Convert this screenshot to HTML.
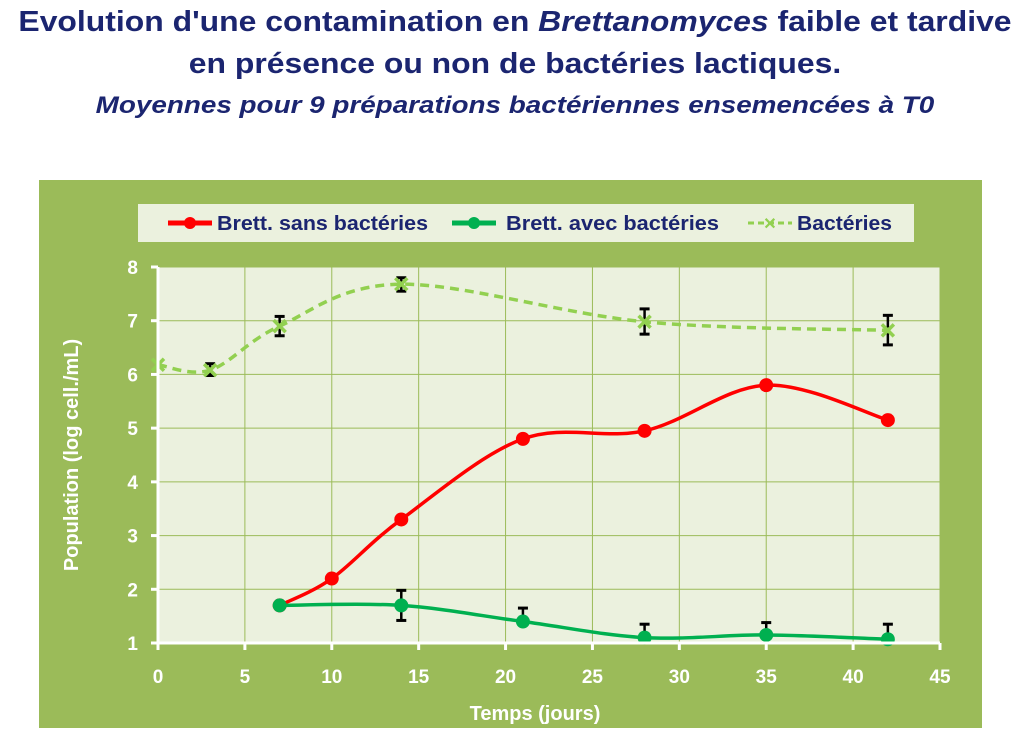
<!DOCTYPE html>
<html><head><meta charset="utf-8">
<style>
body{margin:0;width:1030px;height:748px;background:#fff;overflow:hidden;font-family:"Liberation Sans",sans-serif;}
.t{position:absolute;left:0;width:1030px;text-align:center;color:#1b2570;font-weight:bold;white-space:nowrap;}
</style></head><body>
<div class="t" style="top:6px;font-size:29px;transform:scaleX(1.1);">Evolution d'une contamination en <i>Brettanomyces</i> faible et tardive</div>
<div class="t" style="top:48px;font-size:29px;transform:scaleX(1.1);">en présence ou non de bactéries lactiques.</div>
<div class="t" style="top:92px;font-size:24px;font-style:italic;transform:scaleX(1.16);">Moyennes pour 9 préparations bactériennes ensemencées à T0</div>
<svg id="s" width="1030" height="748" style="position:absolute;left:0;top:0" font-family="Liberation Sans, sans-serif">
<rect x="39" y="180" width="943" height="548" fill="#9bbb59"/>
<rect x="138" y="204" width="776" height="38" fill="#ebf1de"/>
<rect x="158" y="267" width="782" height="376" fill="#ebf1de"/>
<g id="grid" stroke="#9bbb59" stroke-width="1"></g>
<g id="series"></g>
<g font-size="20" font-weight="bold" fill="#1b2570">
<line x1="168" y1="223" x2="212" y2="223" stroke="#ff0000" stroke-width="5"/><circle cx="190" cy="223" r="6" fill="#ff0000"/>
<text x="217" y="230" textLength="211" lengthAdjust="spacingAndGlyphs">Brett. sans bactéries</text>
<line x1="452" y1="223" x2="496" y2="223" stroke="#00b050" stroke-width="5"/><circle cx="474" cy="223" r="6" fill="#00b050"/>
<text x="506" y="230" textLength="213" lengthAdjust="spacingAndGlyphs">Brett. avec bactéries</text>
<line x1="748" y1="223" x2="792" y2="223" stroke="#92d050" stroke-width="3" stroke-dasharray="6,4"/>
<text x="770" y="229" font-size="16" fill="#92d050" text-anchor="middle">✕</text>
<text x="797" y="230" textLength="95" lengthAdjust="spacingAndGlyphs">Bactéries</text>
</g>
<g id="ax" fill="#fff" font-size="19" font-weight="bold"></g>
<text x="535" y="720" fill="#fff" font-size="20" font-weight="bold" text-anchor="middle">Temps (jours)</text>
<text transform="translate(78,455) rotate(-90)" fill="#fff" font-size="20" font-weight="bold" text-anchor="middle">Population (log cell./mL)</text>
</svg>
<script>
const X=t=>158+t*782/45, Y=v=>643-(v-1)*376/7;
const ns="http://www.w3.org/2000/svg";
function el(p,tag,a){const e=document.createElementNS(ns,tag);for(const k in a)e.setAttribute(k,a[k]);p.appendChild(e);return e;}
const g=document.getElementById('grid'),ax=document.getElementById('ax'),se=document.getElementById('series');
for(let t=5;t<=45;t+=5)el(g,'line',{x1:X(t),x2:X(t),y1:267,y2:643});
for(let v=2;v<=8;v++)el(g,'line',{x1:158,x2:940,y1:Y(v),y2:Y(v)});
el(ax,'line',{x1:155,x2:940,y1:643,y2:643,stroke:'#fff','stroke-width':3});
el(ax,'line',{x1:158,x2:158,y1:267,y2:646,stroke:'#fff','stroke-width':3});
for(let t=0;t<=45;t+=5){el(ax,'line',{x1:X(t),x2:X(t),y1:643,y2:650,stroke:'#fff','stroke-width':3});
 const tx=el(ax,'text',{x:X(t),y:683,'text-anchor':'middle'});tx.textContent=t;}
for(let v=1;v<=8;v++){el(ax,'line',{x1:151,x2:158,y1:Y(v),y2:Y(v),stroke:'#fff','stroke-width':3});
 const tx=el(ax,'text',{x:138,y:Y(v)+7,'text-anchor':'end'});tx.textContent=v;}
function path(pts){pts=pts.map(p=>[X(p[0]),Y(p[1])]);let d='M'+pts[0];
 for(let i=0;i<pts.length-1;i++){const p0=pts[i-1]||pts[i],p1=pts[i],p2=pts[i+1],p3=pts[i+2]||p2;
 const c1=[p1[0]+(p2[0]-p0[0])/6,p1[1]+(p2[1]-p0[1])/6],c2=[p2[0]-(p3[0]-p1[0])/6,p2[1]-(p3[1]-p1[1])/6];
 d+=' C'+c1+' '+c2+' '+p2;}return d;}
function err(t,lo,hi){const x=X(t);el(se,'line',{x1:x,x2:x,y1:Y(hi),y2:Y(lo),stroke:'#000','stroke-width':2.5});
 el(se,'line',{x1:x-5,x2:x+5,y1:Y(hi),y2:Y(hi),stroke:'#000','stroke-width':3});
 el(se,'line',{x1:x-5,x2:x+5,y1:Y(lo),y2:Y(lo),stroke:'#000','stroke-width':3});}
const B=[[0,6.18],[3,6.08],[7,6.9],[14,7.68],[28,6.98],[42,6.82]];
const R=[[7,1.7],[10,2.2],[14,3.3],[21,4.8],[28,4.95],[35,5.8],[42,5.15]];
const G=[[7,1.7],[14,1.7],[21,1.4],[28,1.1],[35,1.15],[42,1.07]];
el(se,'path',{d:path(B),fill:'none',stroke:'#92d050','stroke-width':3.5,'stroke-dasharray':'9,6'});
[[3,5.98,6.2],[7,6.72,7.08],[14,7.55,7.8],[28,6.75,7.22],[42,6.55,7.1]].forEach(e=>err(...e));
B.forEach(p=>{const x=X(p[0]),y=Y(p[1]);el(se,'path',{d:`M${x-6},${y-6}L${x+6},${y+6}M${x-6},${y+6}L${x+6},${y-6}`,stroke:'#92d050','stroke-width':3.5});});
el(se,'path',{d:path(R),fill:'none',stroke:'#ff0000','stroke-width':3.5});
R.forEach(p=>el(se,'circle',{cx:X(p[0]),cy:Y(p[1]),r:7,fill:'#ff0000'}));
[[14,1.7,1.98],[21,1.4,1.65],[28,1.1,1.35],[35,1.15,1.38],[42,1.07,1.35]].forEach(e=>{const x=X(e[0]);
 el(se,'line',{x1:x,x2:x,y1:Y(e[2]),y2:Y(e[1]),stroke:'#000','stroke-width':2.5});
 el(se,'line',{x1:x-5,x2:x+5,y1:Y(e[2]),y2:Y(e[2]),stroke:'#000','stroke-width':3});
 if(e[0]==14)el(se,'line',{x1:x-5,x2:x+5,y1:Y(1.42),y2:Y(1.42),stroke:'#000','stroke-width':3}),el(se,'line',{x1:x,x2:x,y1:Y(1.42),y2:Y(1.7),stroke:'#000','stroke-width':2.5});});
el(se,'path',{d:path(G),fill:'none',stroke:'#00b050','stroke-width':3.5});
G.forEach(p=>el(se,'circle',{cx:X(p[0]),cy:Y(p[1]),r:7,fill:'#00b050'}));
</script>
</body></html>
